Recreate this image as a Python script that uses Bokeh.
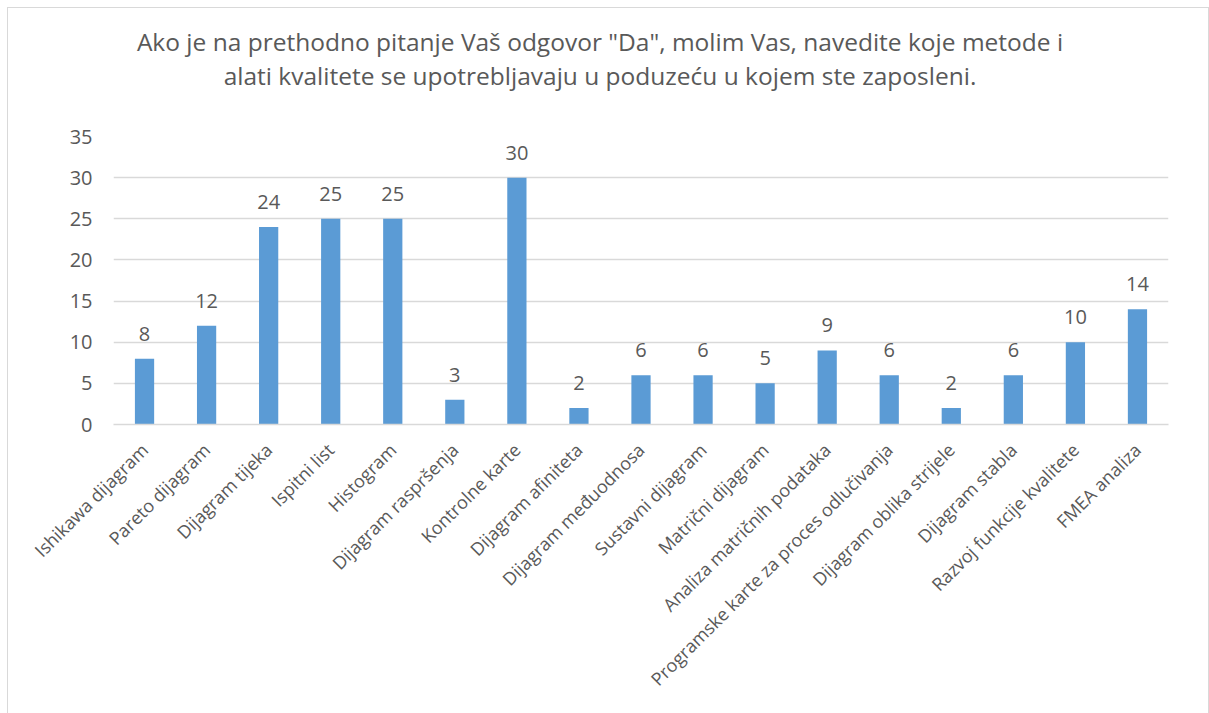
import math
from bokeh.plotting import figure
from bokeh.models import ColumnDataSource, FixedTicker, Range1d, FactorRange, Div
from bokeh.layouts import column
from bokeh.core.properties import value
from bokeh.embed import file_html
from bokeh.resources import INLINE

categories = [
    "Ishikawa dijagram", "Pareto dijagram", "Dijagram tijeka", "Ispitni list",
    "Histogram", "Dijagram raspršenja", "Kontrolne karte", "Dijagram afiniteta",
    "Dijagram međuodnosa", "Sustavni dijagram", "Matrični dijagram",
    "Analiza matričnih podataka", "Programske karte za proces odlučivanja",
    "Dijagram oblika strijele", "Dijagram stabla", "Razvoj funkcije kvalitete",
    "FMEA analiza",
]
counts = [8, 12, 24, 25, 25, 3, 30, 2, 6, 6, 5, 9, 6, 2, 6, 10, 14]
y_ticks = [0, 5, 10, 15, 20, 25, 30, 35]
title_lines = [
    'Ako je na prethodno pitanje Vaš odgovor "Da", molim Vas, navedite koje metode i',
    "alati kvalitete se upotrebljavaju u poduzeću u kojem ste zaposleni.",
]

FONT = "Open Sans"
TXT = "#595959"
GRID = "#D9D9D9"
BAR = "#5B9BD5"

src = ColumnDataSource(dict(cat=categories, val=counts,
                            lbl=[str(v) for v in counts]))

title_html = (
    '<div style="box-sizing:border-box;width:1200px;font-family:\'Open Sans\';'
    'font-size:24.5px;line-height:34px;white-space:nowrap;'
    'color:#595959;text-align:center;padding-top:17px;padding-right:16px;">'
    + "<br>".join(t.replace('"', "&quot;") for t in title_lines) + "</div>"
)
title_div = Div(text=title_html, width=1200, height=100, margin=0)

p = figure(width=1200, height=605, x_range=FactorRange(*categories, range_padding=0),
           y_range=Range1d(0, 35), output_backend="svg", toolbar_location=None,
           min_border_left=105, min_border_right=40, min_border_top=28,
           min_border_bottom=289, margin=0)
p.outline_line_color = None
p.background_fill_color = "white"
p.border_fill_color = "white"

p.vbar(x="cat", top="val", width=0.31, source=src, fill_color=BAR, line_color=None)
p.text(x="cat", y="val", text="lbl", source=src, text_font=value(FONT),
       text_font_size="20px", text_color=TXT, text_align="center",
       text_baseline="alphabetic", y_offset=-25)

# axes
p.yaxis.ticker = FixedTicker(ticks=y_ticks)
p.yaxis.axis_line_color = None
p.yaxis.major_tick_line_color = None
p.yaxis.minor_tick_line_color = None
p.yaxis.major_label_text_font = FONT
p.yaxis.major_label_text_font_size = "20px"
p.yaxis.major_label_text_color = TXT
p.yaxis.major_label_standoff = 15

p.xaxis.axis_line_color = GRID
p.xaxis.axis_line_width = 1.5
p.xaxis.major_tick_line_color = None
p.xaxis.major_label_orientation = math.pi / 4
p.xaxis.major_label_text_font = FONT
p.xaxis.major_label_text_font_size = "18px"
p.xaxis.major_label_text_color = TXT
p.xaxis.major_label_standoff = 16

p.xgrid.grid_line_color = None
p.ygrid.grid_line_color = GRID
p.ygrid.grid_line_width = 1.5

layout = column(title_div, p, spacing=0,
                styles={"margin-left": "7px", "margin-top": "7px",
                        "border-left": "1px solid #D9D9D9",
                        "border-top": "1px solid #D9D9D9",
                        "border-right": "1px solid #D9D9D9",
                        "background-color": "white"})

open("out.html", "w").write(file_html(layout, INLINE))
